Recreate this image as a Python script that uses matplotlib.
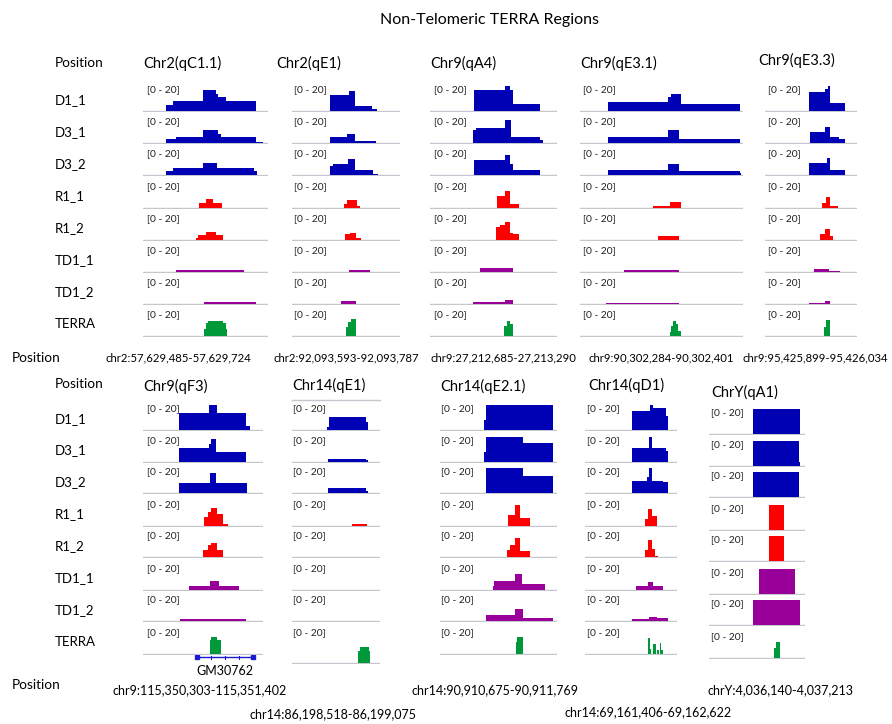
import matplotlib
matplotlib.use("Agg")
import matplotlib.pyplot as plt
from matplotlib import font_manager

######################## data ########################
fig_title = "Non-Telomeric TERRA Regions"
tracks = ['D1_1', 'D3_1', 'D3_2', 'R1_1', 'R1_2', 'TD1_1', 'TD1_2', 'TERRA']
track_range = "[0 - 20]"

top_titles = ['Chr2(qC1.1)', 'Chr2(qE1)', 'Chr9(qA4)', 'Chr9(qE3.1)', 'Chr9(qE3.3)']
top_positions = ['chr2:57,629,485-57,629,724', 'chr2:92,093,593-92,093,787',
                 'chr9:27,212,685-27,213,290', 'chr9:90,302,284-90,302,401',
                 'chr9:95,425,899-95,426,034']
bottom_titles = ['Chr9(qF3)', 'Chr14(qE1)', 'Chr14(qE2.1)', 'Chr14(qD1)', 'ChrY(qA1)']
bottom_positions = ['chr9:115,350,303-115,351,402', 'chr14:86,198,518-86,199,075',
                    'chr14:90,910,675-90,911,769', 'chr14:69,161,406-69,162,622',
                    'chrY:4,036,140-4,037,213']
gene_name = 'GM30762'
gene_span = (45, 92)   # % of Chr9(qF3) window

# coverage, one list per track: (start %, end %, value) within each window
chr2_qC1_1 = [
    [(18, 24, 5), (24, 48, 8), (48, 58, 17), (58, 60, 14), (60, 66, 11), (66, 90, 8)],
    [(18, 26, 3), (26, 48, 5), (48, 60, 10), (60, 62, 7), (62, 90, 5), (90, 96, 1)],
    [(18, 24, 3), (24, 48, 6), (48, 59, 10), (59, 89, 6), (89, 91, 3)],
    [(45, 50, 4), (50, 56, 7), (56, 63, 4)],
    [(42, 44, 1), (44, 50, 3.5), (50, 58, 6), (58, 64, 3.5)],
    [(26, 81, 1.3)],
    [(49, 90, 0.9)],
    [(49, 50, 5), (50, 52, 10), (52, 64, 11.5), (64, 66, 10), (66, 67, 5)],
]
chr2_qE1 = [
    [(35, 53, 13), (53, 58, 16), (58, 74, 4), (74, 79, 2)],
    [(35, 51, 5), (51, 58, 7), (58, 78, 1.5)],
    [(35, 38, 7), (38, 52, 9), (52, 58, 13), (58, 75, 4), (75, 80, 1)],
    [(48, 51, 3), (51, 60, 6), (60, 63, 1.5)],
    [(49, 54, 4.3), (54, 59, 5.6), (59, 64, 1)],
    [(53, 72, 0.9)],
    [(45, 59, 1.8)],
    [(50, 52, 7), (52, 55, 11), (55, 59, 13)],
]
chr9_qA4 = [
    [(35, 59, 17), (59, 63, 20), (63, 65, 17), (65, 87, 5.3)],
    [(34, 36, 10.7), (36, 59, 12), (59, 64, 18.7), (64, 87, 4.8), (87, 89, 2.5)],
    [(35, 59, 12), (59, 63, 16), (63, 65, 9), (65, 87, 4)],
    [(53, 59, 9), (59, 63, 13), (63, 70, 3)],
    [(52, 55, 9.6), (55, 59, 11.5), (59, 63, 14), (63, 65, 5.3), (65, 70, 4.3)],
    [(39, 65, 2.7)],
    [(34, 59, 1.2), (59, 65, 3)],
    [(58, 61, 8), (61, 63, 11.7), (63, 65, 9.6)],
]
chr9_qE3_1 = [
    [(17, 54, 7), (54, 56, 11.5), (56, 62, 13.6), (62, 98, 5.6)],
    [(17, 54, 4.5), (54, 61, 10), (61, 98, 3.5)],
    [(17, 54, 4), (54, 61, 9), (61, 98, 3.2), (98, 99, 1.5)],
    [(45, 55, 1.3), (55, 62, 4.3)],
    [(48, 61, 2.7)],
    [(27, 61, 0.9)],
    [(16, 61, 0.8)],
    [(55, 56, 3), (56, 57, 8), (57, 59, 12), (59, 60, 9.5), (60, 62, 4)],
]
chr9_qE3_3 = [
    [(48, 65, 15.5), (65, 68, 18), (68, 71, 20), (71, 87, 6.7)],
    [(49, 65, 8.5), (65, 71, 12.8), (71, 80, 4.8), (80, 87, 3.2)],
    [(48, 67, 9.3), (67, 71, 14), (71, 87, 4)],
    [(62, 66, 4), (66, 71, 8.3), (71, 79, 1)],
    [(60, 65, 4.3), (65, 71, 8), (71, 74, 2.7)],
    [(53, 70, 1.9), (70, 82, 0.7)],
    [(48, 65, 0.8), (65, 71, 1.9)],
    [(64, 66, 7), (66, 71, 12.3)],
]
chr9_qF3 = [
    [(30, 55, 13.3), (55, 62, 20), (62, 71, 14), (71, 86, 13.3), (86, 89, 3.5)],
    [(30, 55, 10.7), (55, 57, 14.4), (57, 61, 17.8), (61, 86, 8)],
    [(30, 56, 8), (56, 61, 16), (61, 87, 8)],
    [(51, 54, 6.7), (54, 57, 10.7), (57, 62, 14), (62, 67, 9.3), (67, 71, 1.3)],
    [(50, 54, 5.9), (54, 57, 9.3), (57, 62, 11.2), (62, 67, 5.3)],
    [(38, 56, 3), (56, 63, 7), (63, 80, 3)],
    [(31, 86, 1.6)],
    [(56, 57, 11), (57, 62, 13.3), (62, 65, 11)],
]
chr14_qE1 = [
    [(40, 42, 2.5), (42, 84, 10), (84, 86, 6)],
    [(41, 84, 2.1), (84, 86, 1)],
    [(41, 84, 4), (84, 86, 2)],
    [(68, 85, 1.6)],
    [],
    [],
    [],
    [(75, 77, 10), (77, 87, 13), (87, 89, 10)],
]
chr14_qE2_1 = [
    [(38, 39, 8), (39, 97, 20)],
    [(38, 39, 8), (39, 71, 20), (71, 97, 14.7)],
    [(39, 71, 20), (71, 97, 13.9)],
    [(58, 64, 8.8), (64, 68, 16.5), (68, 77, 6)],
    [(57, 60, 6), (60, 64, 10), (64, 68, 15.5), (68, 77, 4.8)],
    [(45, 46, 3), (46, 64, 6.7), (64, 70, 12.8), (70, 90, 4.5)],
    [(39, 64, 4.5), (64, 71, 9.3), (71, 97, 2.7)],
    [(65, 66, 9), (66, 71, 13.3)],
]
chr14_qD1 = [
    [(51, 71, 15.2), (71, 74, 20), (74, 88, 17.8), (88, 90, 11)],
    [(51, 70, 10.7), (70, 73, 20), (73, 88, 10.7), (88, 90, 8.8)],
    [(51, 67, 9.9), (67, 70, 12.5), (70, 73, 19.7), (73, 85, 9.9), (85, 90, 8.5)],
    [(65, 68, 5.3), (68, 73, 13.3), (73, 78, 8)],
    [(65, 68, 5.3), (68, 73, 13.3), (73, 76, 6.7), (76, 79, 1)],
    [(55, 68, 2.7), (68, 74, 6.4), (74, 85, 3.2)],
    [(51, 70, 1.3), (70, 78, 3.5), (78, 90, 2.1)],
    [(68, 71, 12.8), (71, 72, 4), (74, 77, 7.5), (78, 80, 2.5), (81, 83, 8.3), (83, 85, 3)],
]
chrY_qA1 = [
    [(46, 95, 20)],
    [(46, 94, 20), (94, 95, 3)],
    [(46, 94, 20)],
    [(63, 78, 20)],
    [(63, 78, 20)],
    [(52, 90, 20)],
    [(46, 95, 20)],
    [(68, 70, 8), (70, 74, 12.5)],
]

######################## layout (pixels) ########################
W, H = 892, 724
colors = ['#0000b4', '#0000b4', '#0000b4', '#ff0000', '#ff0000', '#990099', '#990099', '#00993a']
base_col = '#c6c6ce'

top_base = [111, 143, 175, 207.5, 239.5, 271.5, 303.5, 335.5]
bot_base = [430, 461.5, 493, 525.5, 557, 589.5, 621, 653.5]

# (coverage, x0, x1, label x, title x, title y, baselines)
panels = [
    (chr2_qC1_1, 143, 268, 147, 143, 63, top_base),
    (chr2_qE1, 292, 400, 294, 276, 63, top_base),
    (chr9_qA4, 430, 557, 434, 430, 63, top_base),
    (chr9_qE3_1, 580, 743, 583, 580, 63, top_base),
    (chr9_qE3_3, 765, 857, 768, 758, 60, top_base),
    (chr9_qF3, 143, 263, 147, 143, 386, bot_base),
    (chr14_qE1, 292, 380, 293, 292, 385, bot_base[:7] + [663]),
    (chr14_qE2_1, 440, 557, 441, 440, 386, bot_base),
    (chr14_qD1, 585, 677, 587, 588, 385, bot_base),
    (chrY_qA1, 709, 805, 711, 711, 392, [b + 4 for b in bot_base]),
]
panel_titles = top_titles + bottom_titles

top_pos_x = [178, 346, 503, 661, 815]
bot_pos_xy = [(200, 690), (333, 714), (495, 690), (648, 712), (780, 690)]

plt.rcParams['font.family'] = ['Lato', 'DejaVu Sans']
names = {f.name for f in font_manager.fontManager.ttflist}
if 'Liberation Sans Narrow' in names:
    narrow, narrow_size = 'Liberation Sans Narrow', 10
else:
    narrow, narrow_size = 'Lato', 8.2

fig = plt.figure(figsize=(W / 100, H / 100), dpi=100)
canvas = fig.add_axes([0, 0, 1, 1])
canvas.set_xlim(0, W)
canvas.set_ylim(H, 0)
canvas.axis('off')

canvas.text(490, 20, fig_title, ha='center', va='center', fontsize=11.5)

# row labels
for y0 in (63, 384):
    canvas.text(55, y0, 'Position', ha='left', va='center', fontsize=9.8)
for base in (top_base, bot_base):
    for name, b in zip(tracks, base):
        canvas.text(55, b - 11, name, ha='left', va='center', fontsize=9.5)

for (cov, x0, x1, lx, tx, ty, base), ttl in zip(panels, panel_titles):
    canvas.text(tx, ty, ttl, ha='left', va='center', fontsize=10.5)
    for i, (segs, b) in enumerate(zip(cov, base)):
        lab_b = bot_base[i] if base is not top_base and b == 663 else b
        canvas.text(lx, lab_b - 21, track_range, ha='left', va='center', fontsize=7.4, color='#222222')
        ax = fig.add_axes([x0 / W, 1 - (b + 1) / H, (x1 - x0) / W, 27 / H])
        ax.set_xlim(0, 100)
        ax.set_ylim(-0.8, 20.8)
        ax.axis('off')
        ax.axhline(0, color=base_col, lw=1.0, zorder=0)
        for s, e, v in segs:
            ax.bar(s, v, width=e - s, align='edge', color=colors[i], lw=0, zorder=2)

# odd top border on Chr14(qE1)
canvas.plot([292, 380], [400, 400], color=base_col, lw=1.0)

# gene track under Chr9(qF3)
gx0, gx1 = panels[5][1], panels[5][2]
g0 = gx0 + (gx1 - gx0) * gene_span[0] / 100
g1 = gx0 + (gx1 - gx0) * gene_span[1] / 100
canvas.plot([g0, g1], [657, 657], color='#1a1ad0', lw=1.0)
canvas.plot([g0, g1], [657, 657], ls='none', marker='s', ms=2.5, color='#1a1ad0')
for k in range(1, 4):
    gx = g0 + (g1 - g0) * k / 4
    canvas.plot([gx, gx], [655.5, 658.5], color='#1a1ad0', lw=0.8)
canvas.text((g0 + g1) / 2, 671, gene_name, ha='center', va='center', fontsize=9)

# positions
canvas.text(12, 358, 'Position', ha='left', va='center', fontsize=9.8)
for px, lab in zip(top_pos_x, top_positions):
    canvas.text(px, 358, lab, ha='center', va='center', fontsize=narrow_size, family=[narrow, 'DejaVu Sans'])
canvas.text(12, 685, 'Position', ha='left', va='center', fontsize=9.8)
for (px, py), lab in zip(bot_pos_xy, bottom_positions):
    canvas.text(px, py, lab, ha='center', va='center', fontsize=9)

fig.savefig('out.png', dpi=100)
